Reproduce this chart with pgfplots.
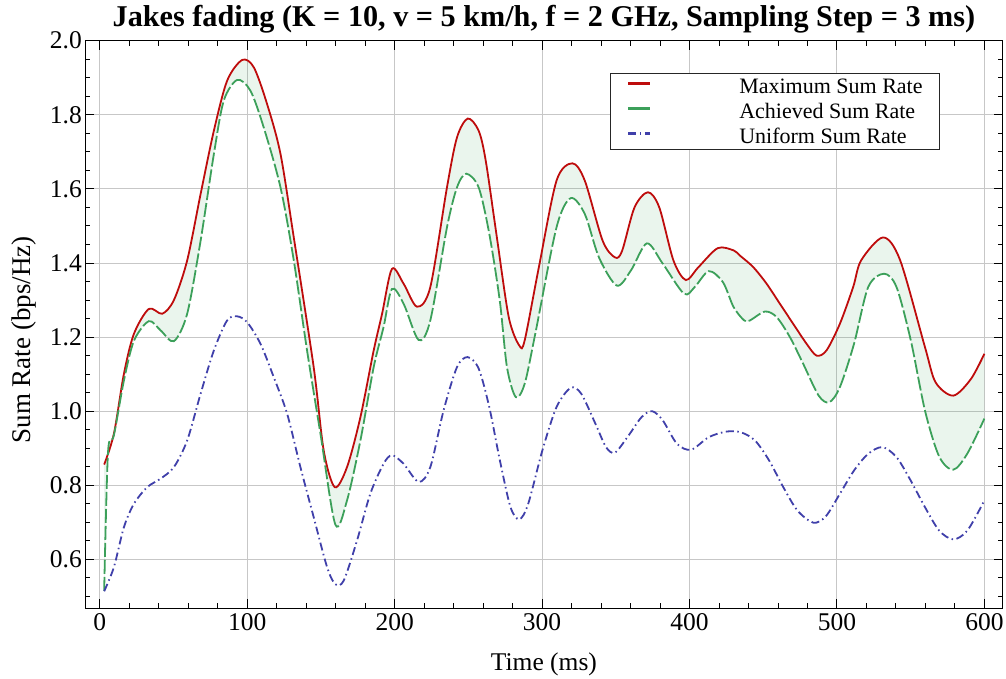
\documentclass[border=0pt]{standalone}
\usepackage{fontspec}
\setmainfont{Liberation Serif}
\usepackage{pgfplots}
\pgfplotsset{compat=1.18}
\usepgfplotslibrary{fillbetween}

\definecolor{maxred}{RGB}{190,12,12}
\definecolor{achgreen}{RGB}{60,160,90}
\definecolor{uniblue}{RGB}{64,64,170}

\begin{document}
\begin{tikzpicture}
\begin{axis}[
    at={(0pt,0pt)}, anchor=south west,
    width=917.2pt, height=567.6pt, scale only axis,
    xmin=-9.8, xmax=612.3,
    ymin=0.468, ymax=2.0,
    xtick={0,100,...,600},
    ytick={0.6,0.8,1.0,1.2,1.4,1.6,1.8,2.0},
    minor xtick={20,40,60,80,120,140,160,180,220,240,260,280,320,340,360,380,420,440,460,480,520,540,560,580},
    minor ytick={0.5,0.55,0.65,0.7,0.75,0.85,0.9,0.95,1.05,1.1,1.15,1.25,1.3,1.35,1.45,1.5,1.55,1.65,1.7,1.75,1.85,1.9,1.95},
    xmajorgrids, ymajorgrids,
    grid style={black!22, line width=0.9pt},
    axis line style={black, line width=1.1pt},
    major tick length=9pt, minor tick length=5pt,
    every tick/.style={black, line width=0.9pt},
    tick label style={font=\fontsize{25.5}{29}\selectfont},
    /pgf/number format/assume math mode=true,
    yticklabel style={/pgf/number format/.cd, fixed, fixed zerofill, precision=1},
    xticklabel style={yshift=-2pt},
    title={\textbf{Jakes fading (K = 10, v = 5 km/h, f = 2 GHz, Sampling Step = 3 ms)}},
    title style={font=\fontsize{30.2}{34}\selectfont, at={(axis description cs:0.5,1.0153)}, anchor=base, yshift=0pt},
    xlabel={Time (ms)},
    xlabel style={font=\fontsize{25.5}{29}\selectfont, at={(axis description cs:0.5,-0.11)}, anchor=base},
    ylabel={Sum Rate (bps/Hz)},
    ylabel style={font=\fontsize{27}{31}\selectfont, at={(axis description cs:-0.0592,0.4727)}, anchor=base},
    legend cell align=left,
    legend style={at={(0.572,0.9436)}, anchor=north west, draw=black!85, fill=white,
        inner xsep=17pt, inner ysep=3.5pt, row sep=6pt,
        font=\fontsize{22}{25}\selectfont,
        nodes={inner sep=0pt, text height=17pt, text depth=2pt}},
    legend image code/.code={\draw[#1, line width=2.2pt] (0pt,2.5pt) -- (22pt,2.5pt); \path[draw=none, fill=none] (0pt,0pt) -- (111pt,0pt);},
]

\addplot[name path=maxp, maxred, line width=1.8pt, smooth] coordinates {
(3,0.856) (9.6,0.939) (16.4,1.101) (23.2,1.209) (33.3,1.276) (42.4,1.263)
(50.3,1.300) (59.3,1.407) (68.4,1.586) (77.4,1.757) (86.4,1.892) (96.6,1.948)
(104.5,1.928) (113.5,1.829) (122.6,1.694) (131.6,1.469) (145.1,1.119)
(151.9,0.894) (159.4,0.795) (167.7,0.849) (176.8,0.984) (185.8,1.164) (191.5,1.263)
(198.2,1.384) (206.1,1.344) (215.2,1.282) (224.2,1.335) (235.5,1.604) (242.3,1.739)
(249.6,1.790) (257,1.757) (261.8,1.676) (269,1.479) (277.4,1.254) (284.6,1.177)
(288.2,1.191) (297.8,1.388) (309.8,1.622) (320.6,1.669) (329,1.622) (341.1,1.460)
(349.5,1.415) (354.3,1.433) (362.7,1.550) (371.8,1.591) (379.5,1.550) (389.1,1.407)
(397.5,1.354) (405.9,1.388) (419.1,1.440) (429.9,1.434) (434.2,1.420) (443.2,1.389)
(452.3,1.344) (461.3,1.290) (470.3,1.236) (479.4,1.182) (486.2,1.150) (492.9,1.164)
(502,1.236) (511,1.335) (516.4,1.407) (531.3,1.469) (542.9,1.407) (559.7,1.173)
(566.9,1.078) (578.9,1.042) (590.9,1.087) (600,1.155)
};
\addlegendentry{Maximum Sum Rate}

\addplot[name path=achp, achgreen, line width=1.8pt, dash pattern=on 14pt off 3pt, smooth,
    legend image post style={solid}] coordinates {
(3,0.515) (5.6,0.889) (9.6,0.935) (16.4,1.083) (23.2,1.190) (33.3,1.243) (41.3,1.218)
(50.3,1.189) (59.3,1.263) (68.4,1.460) (77.4,1.694) (84.1,1.838) (93.2,1.894)
(102.2,1.865) (111.2,1.766) (122.6,1.604) (131.6,1.407) (140.6,1.164)
(149.7,0.939) (159.8,0.694) (167.7,0.759) (176.8,0.921) (185.8,1.119) (192.5,1.227)
(198.2,1.330) (206.1,1.290) (216.3,1.192) (224.2,1.245) (235.5,1.496) (242.3,1.604)
(248.6,1.641) (257,1.604) (264.2,1.479) (271.3,1.299) (276.2,1.119) (282.2,1.038)
(288.2,1.074) (295.4,1.209) (309.8,1.496) (319.4,1.575) (329,1.532) (338.6,1.415)
(350.7,1.339) (360.3,1.380) (371.1,1.453) (381.9,1.398) (396.3,1.317) (403.5,1.335)
(413.1,1.378) (422.7,1.348) (429.9,1.281) (437.1,1.245) (441,1.245) (451.2,1.269)
(459.1,1.254) (468.1,1.200) (477.1,1.128) (487.6,1.042) (494.8,1.024) (502,1.065)
(511.6,1.182) (521.2,1.335) (532,1.371) (540.4,1.335) (550.1,1.191) (559.7,1.002)
(569.3,0.878) (578.9,0.842) (588.5,0.886) (600,0.980)
};
\addlegendentry{Achieved Sum Rate}

\addplot[uniblue, line width=1.8pt, dash pattern=on 8pt off 3.5pt on 1.5pt off 3.5pt, smooth] coordinates {
(3,0.514) (9.6,0.579) (16.4,0.687) (23.2,0.750) (32.2,0.795) (41.3,0.818) (50.3,0.849)
(59.3,0.921) (68.4,1.047) (77.4,1.164) (86.4,1.245) (93.2,1.256) (100,1.240) (109,1.182)
(118,1.092) (127.1,0.993) (136.1,0.849) (145.1,0.714) (154.2,0.579) (159.8,0.533)
(165.5,0.543) (174.5,0.651) (183.5,0.777) (192.5,0.858) (198.2,0.881) (206.1,0.858)
(216.3,0.809) (224.2,0.849) (233.2,1.002) (242.3,1.119) (249.5,1.146) (257,1.115)
(264.2,1.011) (271.4,0.867) (278.6,0.741) (284.6,0.708) (290.6,0.750) (300.2,0.894)
(309.8,1.011) (319.4,1.063) (326.6,1.047) (336.2,0.966) (343.4,0.903) (349.4,0.888)
(357.9,0.930) (367.5,0.984) (374.7,1.000) (381.9,0.975) (391.5,0.912) (401.1,0.896)
(413.1,0.930) (425.1,0.945) (434.8,0.943) (444.4,0.921) (454,0.867) (463.6,0.795)
(473.2,0.732) (484,0.699) (492.4,0.716) (502,0.777) (511.6,0.840) (521.2,0.885)
(530.8,0.903) (540.4,0.876) (550,0.813) (559.7,0.741) (569.3,0.678) (578.9,0.654)
(588.5,0.678) (600,0.759)
};
\addlegendentry{Uniform Sum Rate}

\addplot[achgreen, fill opacity=0.11, draw=none, forget plot] fill between[of=maxp and achp];

\end{axis}
\pgfresetboundingbox
\path[use as bounding box] (-85.3pt,-70.7pt) rectangle (920.7pt,608.3pt);
\end{tikzpicture}
\end{document}
